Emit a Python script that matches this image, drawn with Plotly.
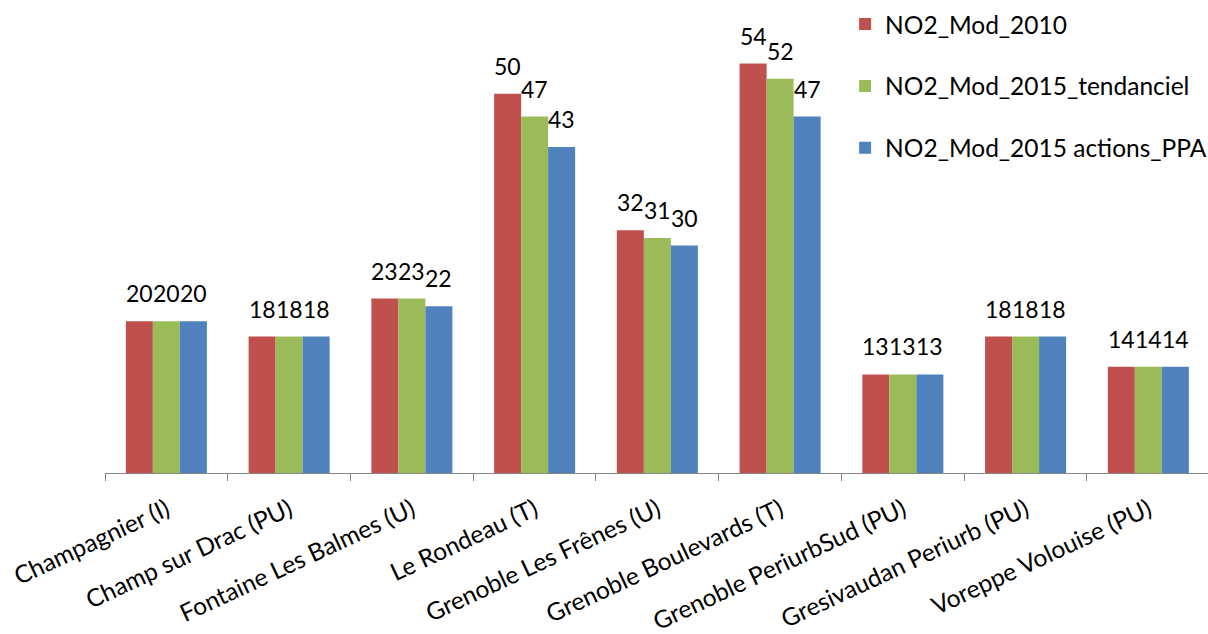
import plotly.graph_objects as go

# Stations and modelled NO2 annual means (µg/m3)
stations = [
    "Champagnier (I)",
    "Champ sur Drac (PU)",
    "Fontaine Les Balmes (U)",
    "Le Rondeau (T)",
    "Grenoble Les Frênes (U)",
    "Grenoble Boulevards (T)",
    "Grenoble PeriurbSud (PU)",
    "Gresivaudan Periurb (PU)",
    "Voreppe Volouise (PU)",
]
no2_2010 = [20, 18, 23, 50, 32, 54, 13, 18, 14]
no2_2015_trend = [20, 18, 23, 47, 31, 52, 13, 18, 14]
no2_2015_ppa = [20, 18, 22, 43, 30, 47, 13, 18, 14]

series_names = ["NO2_Mod_2010", "NO2_Mod_2015_tendanciel", "NO2_Mod_2015 actions_PPA"]
series_values = [no2_2010, no2_2015_trend, no2_2015_ppa]
series_colors = ["#C0504D", "#9BBB59", "#4F81BD"]

FONT = "Lato, 'Open Sans', sans-serif"
BARGAP = 0.34
slot = (1 - BARGAP) / 3  # width of one bar in category units

fig = go.Figure()
for k, (name, vals, col) in enumerate(zip(series_names, series_values, series_colors)):
    fig.add_trace(go.Bar(
        x=stations, y=vals, name=name, legendgroup=name,
        marker=dict(color=col, line=dict(width=0)),
    ))

# value labels above each bar
annotations = []
for k, vals in enumerate(series_values):
    off = (k - 1) * slot
    for i, v in enumerate(vals):
        annotations.append(dict(
            x=i + off, y=v, xref="x", yref="y", text=str(v),
            showarrow=False, yanchor="bottom", yshift=12,
            font=dict(family=FONT, size=23, color="#000000"),
        ))

fig.update_layout(
    width=1208, height=634,
    margin=dict(l=105, r=0, t=18, b=161, autoexpand=False),
    paper_bgcolor="white", plot_bgcolor="white",
    barmode="group", bargap=BARGAP, bargroupgap=0,
    font=dict(family=FONT, size=24, color="#000000"),
    annotations=annotations,
    showlegend=True,
    legend=dict(
        x=0.671, y=1.036, xanchor="left", yanchor="top",
        font=dict(family=FONT, size=24.5, color="#000000"),
        tracegroupgap=27, bgcolor="rgba(0,0,0,0)",
        itemsizing="constant",
    ),
    xaxis=dict(
        range=[-0.5, 8.486], showgrid=False, zeroline=False,
        showline=True, linecolor="#868686", linewidth=1,
        ticks="outside", tickson="boundaries", ticklen=7,
        tickcolor="#868686", tickangle=-25, ticklabelstandoff=12,
        automargin=False,
        tickfont=dict(family=FONT, size=24.5, color="#000000"),
    ),
    yaxis=dict(
        range=[0, 60], visible=False, showgrid=False, zeroline=False,
    ),
)

fig.write_html("out.html")
